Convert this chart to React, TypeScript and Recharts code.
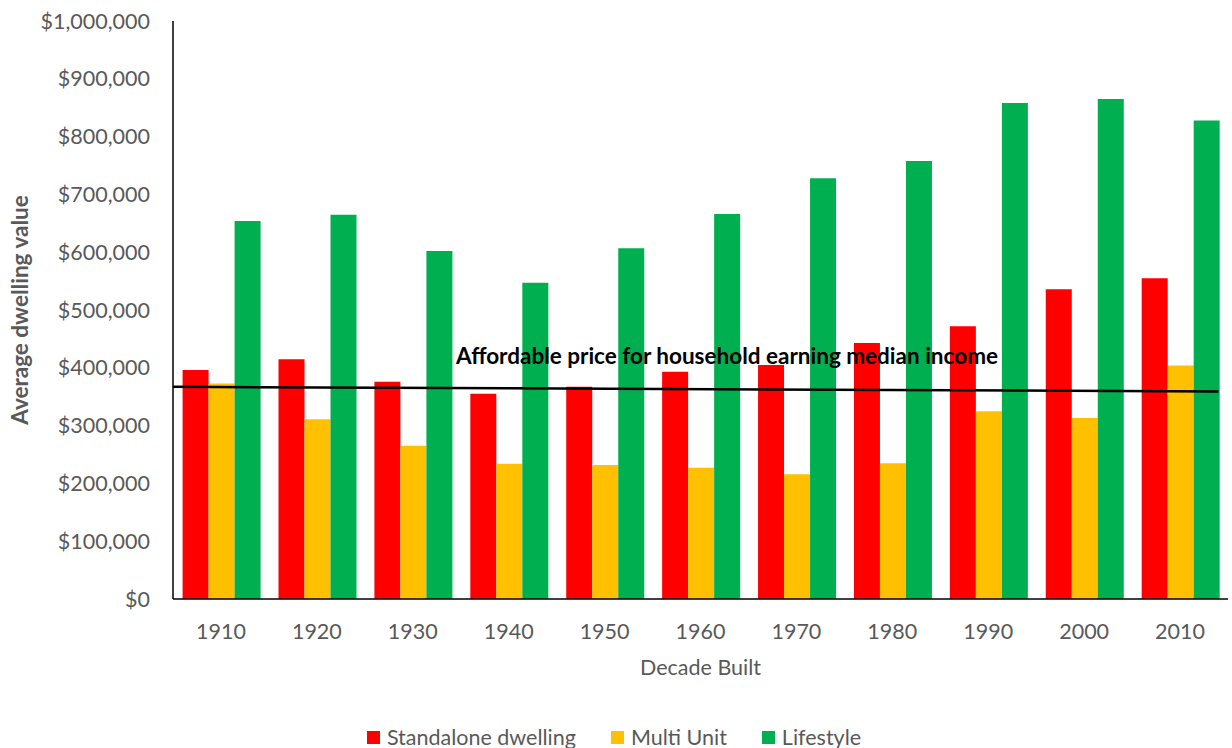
import { ComposedChart, Bar, Line, XAxis, YAxis, Legend } from "recharts";

const decades = ["1910", "1920", "1930", "1940", "1950", "1960", "1970", "1980", "1990", "2000", "2010"];
const standalone = [396000, 415000, 376000, 355000, 367000, 393000, 405000, 443000, 472000, 536000, 555000];
const multiUnit = [373000, 311000, 265000, 234000, 232000, 227000, 216000, 235000, 325000, 313000, 404000];
const lifestyle = [654000, 665000, 602000, 547000, 607000, 666000, 728000, 758000, 858000, 865000, 828000];

// affordable price line, x in category-index units on a hidden numeric axis
const affordableX = [0, 10.9];
const affordableY = [367000, 359000];

const yTicks = [0, 100000, 200000, 300000, 400000, 500000, 600000, 700000, 800000, 900000, 1000000];

const seriesOrder = ["Standalone dwelling", "Multi Unit", "Lifestyle"];

const FONT = "Lato, 'Open Sans', sans-serif";
const TEXT_COLOR = "#595959";

const data = decades.map((d, i) => ({
  decade: d,
  standalone: standalone[i],
  multiUnit: multiUnit[i],
  lifestyle: lifestyle[i],
}));

const lineData = affordableX.map((x, i) => ({ x, y: affordableY[i] }));

const fmtMoney = (v: number) => "$" + v.toLocaleString("en-US");

function LegendRow({ payload }: any) {
  const items = (payload || [])
    .filter((p: any) => seriesOrder.includes(p.value))
    .sort((a: any, b: any) => seriesOrder.indexOf(a.value) - seriesOrder.indexOf(b.value));
  return (
    <div style={{ display: "flex", justifyContent: "center", alignItems: "center", height: 22, gap: 35 }}>
      {items.map((p: any) => (
        <div key={p.value} style={{ display: "flex", alignItems: "center" }}>
          <span style={{ display: "inline-block", width: 13, height: 13, background: p.color, marginRight: 7 }} />
          <span style={{ fontSize: 21.5, color: TEXT_COLOR, fontFamily: FONT, lineHeight: "22px" }}>{p.value}</span>
        </div>
      ))}
    </div>
  );
}

export default function App() {
  return (
    <div style={{ position: "absolute", left: 0, top: 0, width: 1232, height: 748, background: "#fff", fontFamily: FONT }}>
      <ComposedChart
        width={1232}
        height={748}
        data={data}
        margin={{ top: 21, right: 4, left: 0, bottom: 0 }}
        barCategoryGap="10%"
        barGap={0}
      >
        <XAxis
          xAxisId="cat"
          dataKey="decade"
          height={127}
          tick={{ fontSize: 21.5, fill: TEXT_COLOR, fontFamily: FONT }}
          tickLine={false}
          tickMargin={19}
          axisLine={{ stroke: "#000", strokeWidth: 1.5 }}
          label={{ value: "Decade Built", position: "insideTop", offset: 61, fontSize: 21.5, fill: TEXT_COLOR, fontFamily: FONT }}
        />
        <XAxis xAxisId="num" type="number" dataKey="x" domain={[0, 11]} hide allowDataOverflow />
        <YAxis
          width={173}
          domain={[0, 1000000]}
          ticks={yTicks}
          tickFormatter={fmtMoney}
          tick={{ fontSize: 21.5, fill: TEXT_COLOR, fontFamily: FONT }}
          tickLine={false}
          tickMargin={17}
          axisLine={{ stroke: "#000", strokeWidth: 1.5 }}
          label={{
            value: "Average dwelling value",
            angle: -90,
            position: "insideLeft",
            offset: 20,
            style: { textAnchor: "middle", fontSize: 22.5, fontWeight: 700, fill: TEXT_COLOR, fontFamily: FONT },
          }}
        />
        <Bar xAxisId="cat" dataKey="standalone" name="Standalone dwelling" fill="#FF0000" isAnimationActive={false} />
        <Bar xAxisId="cat" dataKey="multiUnit" name="Multi Unit" fill="#FFC000" isAnimationActive={false} />
        <Bar xAxisId="cat" dataKey="lifestyle" name="Lifestyle" fill="#00B050" isAnimationActive={false} />
        <Line
          xAxisId="num"
          data={lineData}
          dataKey="y"
          stroke="#000"
          strokeWidth={2.5}
          dot={false}
          legendType="none"
          isAnimationActive={false}
        />
        <Legend verticalAlign="bottom" height={22} content={<LegendRow />} />
      </ComposedChart>
      <div
        style={{
          position: "absolute",
          left: 456,
          top: 342,
          fontSize: 22.5,
          fontWeight: 700,
          color: "#000",
          fontFamily: FONT,
          whiteSpace: "nowrap",
        }}
      >
        Affordable price for household earning median income
      </div>
    </div>
  );
}
